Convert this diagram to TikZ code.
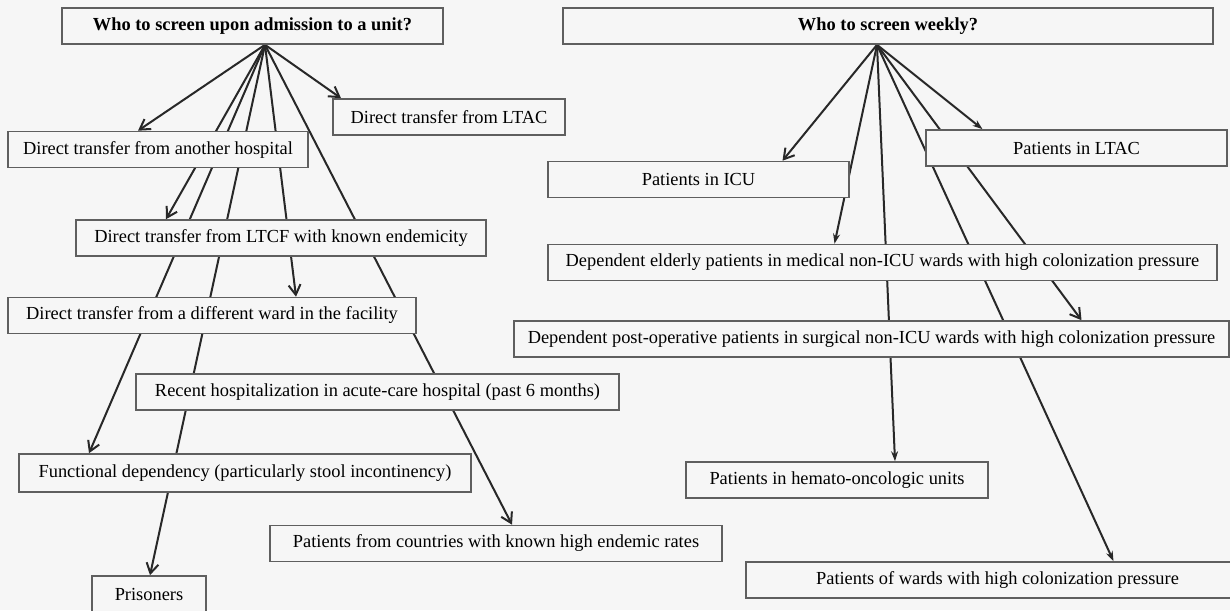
\documentclass[tikz,border=0pt]{standalone}
\usepackage{fontspec}
\setmainfont{Liberation Serif}
\usepackage{tikz}
\usetikzlibrary{arrows.meta, positioning, calc}
\definecolor{paper}{RGB}{246,246,246}
\definecolor{boxline}{RGB}{95,95,95}
\definecolor{arrowline}{RGB}{40,40,40}
\pgfdeclarelayer{paperlayer}
\pgfdeclarelayer{arrowlayer}
\pgfsetlayers{paperlayer,arrowlayer,main}

\begin{document}
\begin{tikzpicture}[x=0.5pt, y=-0.5pt,
	every node/.style={font=\fontsize{9.2}{11}\selectfont},
	crit/.style={draw=boxline, line width=0.8pt, fill=paper, inner sep=0pt, minimum height=18pt},
	head/.style={crit, font=\fontsize{9.2}{11}\selectfont\bfseries},
	pointer/.style={draw=arrowline, line width=1pt, -{Straight Barb[length=5pt,width=6pt]}},
	pointerfill/.style={draw=arrowline, line width=1pt, -{Stealth[length=5pt,width=3.5pt]}}]
		\useasboundingbox (0,0) rectangle (1230,610);
		\begin{pgfonlayer}{paperlayer}
		\fill[paper] (0,0) rectangle (1230,610);
		\end{pgfonlayer}
		
		% upon admission
		\node[head, minimum width=190.5pt] (admit) at (252.5,26) {Who to screen upon admission to a unit?};
		\node[crit, minimum width=116pt] (ltac) at (449,117) {Direct transfer from LTAC};
		\node[crit, minimum width=150pt] (hosp) at (158,149.5) {Direct transfer from another hospital};
		\node[crit, minimum width=205pt] (ltcf) at (281,238) {Direct transfer from LTCF with known endemicity};
		\node[crit, minimum width=204pt] (ward) at (212,315.5) {Direct transfer from a different ward in the facility};
		\node[crit, minimum width=241.5pt] (recent) at (377.5,392) {Recent hospitalization in acute-care hospital (past 6 months)};
		\node[crit, minimum width=226pt, minimum height=19pt] (funct) at (245,473) {Functional dependency (particularly stool incontinency)};
		\node[crit, minimum width=57pt] (prison) at (149,594) {Prisoners};
		\node[crit, minimum width=226pt] (abroad) at (496,543.5) {Patients from countries with known high endemic rates};
		
		% weekly
		\node[head, minimum width=325pt] (weekly) at (888,26) {Who to screen weekly?};
		\node[crit, minimum width=150.5pt] (ltacw) at (1076.5,148) {Patients in LTAC};
		\node[crit, minimum width=150.5pt] (icu) at (698.5,179.5) {Patients in ICU};
		\node[crit, minimum width=334.5pt] (elderly) at (882.5,262.5) {Dependent elderly patients in medical non-ICU wards with high colonization pressure};
		\node[crit, minimum width=357.5pt] (postop) at (871.5,339) {Dependent post-operative patients in surgical non-ICU wards with high colonization pressure};
		\node[crit, minimum width=151pt] (hemato) at (837,480) {Patients in hemato-oncologic units};
		\node[crit, minimum width=251.5pt] (pressure) at (997.5,580) {Patients of wards with high colonization pressure};
		
		\begin{pgfonlayer}{arrowlayer}
		\draw[pointer] ([xshift=6.25pt]admit.south) -- ([xshift=-10pt]hosp.north);
		\draw[pointer] ([xshift=6.25pt]admit.south) -- ([xshift=-54pt]ltac.north);
		\draw[pointer] ([xshift=6.25pt]admit.south) -- ([xshift=-57.5pt]ltcf.north);
		\draw[pointer] ([xshift=6.25pt]admit.south) -- ([xshift=42pt]ward.north);
		\draw[pointer] ([xshift=6.25pt]admit.south) -- ([xshift=-78pt]funct.north);
		\draw[pointer] ([xshift=6.25pt]admit.south) -- ([xshift=0.5pt]prison.north);
		\draw[pointer] ([xshift=6.25pt]admit.south) -- ([xshift=8pt]abroad.north);
		
		\draw[pointer] ([xshift=-5.5pt]weekly.south) -- ([xshift=42pt]icu.north);
		\draw[pointerfill] ([xshift=-5.5pt]weekly.south) -- ([xshift=-47pt]ltacw.north);
		\draw[pointerfill] ([xshift=-5.5pt]weekly.south) -- ([xshift=-24pt]elderly.north);
		\draw[pointer] ([xshift=-5.5pt]weekly.south) -- ([xshift=105pt]postop.north);
		\draw[pointerfill] ([xshift=-5.5pt]weekly.south) -- ([xshift=29pt]hemato.north);
		\draw[pointerfill] ([xshift=-5.5pt]weekly.south) -- ([xshift=58pt]pressure.north);
		\end{pgfonlayer}
		%%\node at (615,600) {};
\end{tikzpicture}
\end{document}
